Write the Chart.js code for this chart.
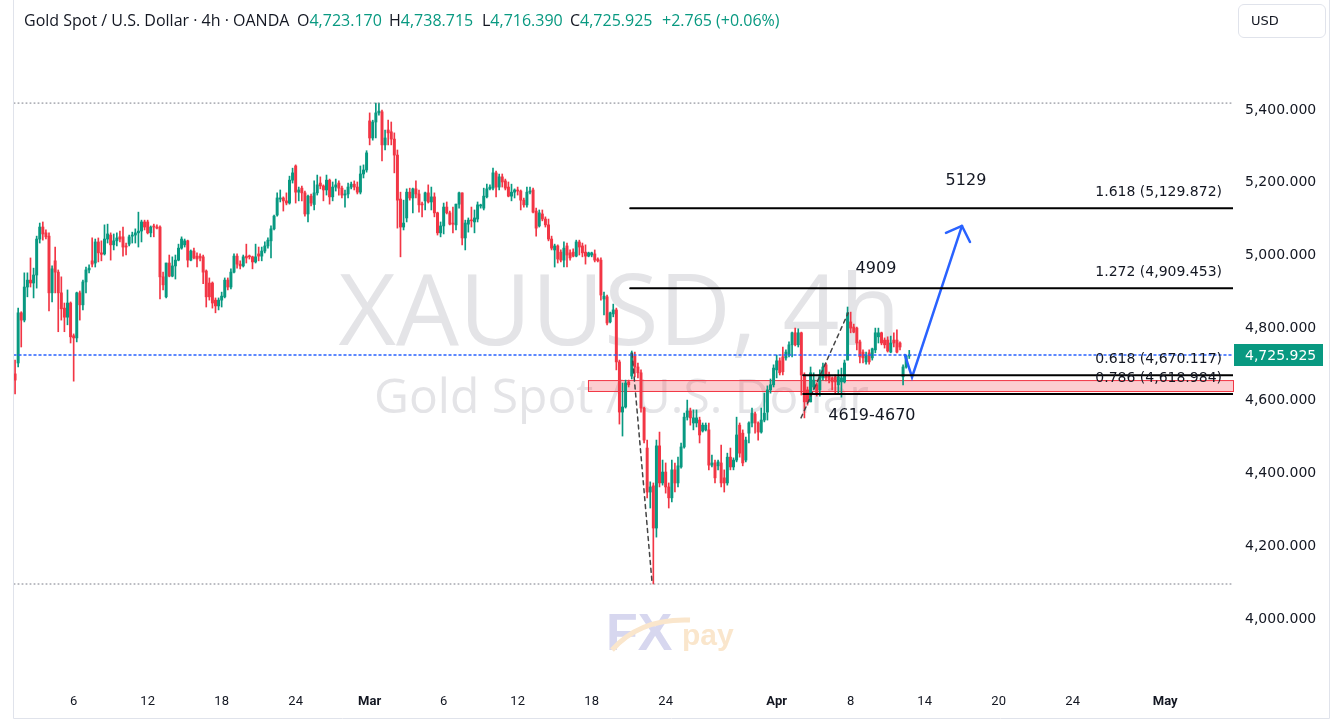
<!DOCTYPE html>
<html>
<head>
<meta charset="utf-8">
<script src="https://cdn.jsdelivr.net/npm/chart.js@4.4.1/dist/chart.umd.min.js"></script>
<style>
  html, body { margin: 0; padding: 0; background: #fff; }
  #wrap { position: relative; width: 1343px; height: 728px; overflow: hidden; }
  #chart { position: absolute; left: 0; top: 0; }
  .hdr { position: absolute; top: 9px; font: 16px 'Open Sans', Roboto, sans-serif; color: #131722; white-space: nowrap; }
  .hdr .v { color: #089981; }
  #usd { position: absolute; left: 1238px; top: 4px; width: 88px; height: 34px; border: 1px solid #e0e3eb; border-radius: 6px;
         font: 13px 'DejaVu Sans', sans-serif; color: #131722; line-height: 32px; padding-left: 12px; box-sizing: border-box; }
</style>
</head>
<body>
<div id="wrap">
  <canvas id="chart" width="1343" height="728"></canvas>
  <div class="hdr" style="left:24px">Gold Spot / U.S. Dollar · 4h · OANDA</div>
  <div class="hdr" id="hO" style="left:297px"></div>
  <div class="hdr" id="hH" style="left:389px"></div>
  <div class="hdr" id="hL" style="left:482px"></div>
  <div class="hdr" id="hC" style="left:570px"></div>
  <div class="hdr" id="hChg" style="left:662px"></div>
  <div id="usd">USD</div>
</div>
<script>
// 4h candles, first bar = last bar of Feb 2, then 6 bars per trading day
const opens = [
  4674,4704,4842,4822,4913,4932,4924,4946,5045,5078, 5062,5053,4897,4985,4954,4897,4855,4830,4869,4779,
  4773,4897,4864,4927,4960,4985,4979,5037,5007,5004, 5045,5056,5029,5040,5051,5051,5026,5031,5053,5056,
  5062,5067,5092,5092,5062,5081,5078,5078,4941,4886, 4979,4943,4971,4987,5020,5029,5040,4987,5012,4998,
  4998,4996,4957,4924,4924,4877,4861,4877,4886,4932, 4913,4954,4998,4976,4971,4998,4998,4996,4982,5004,
  4998,5012,5026,5040,5073,5111,5155,5158,5150,5144, 5207,5246,5174,5185,5172,5114,5163,5140,5172,5199,
  5191,5180,5207,5161,5188,5199,5185,5166,5169,5188, 5196,5188,5174,5224,5235,5370,5323,5367,5392,5395,
  5304,5345,5340,5320,5276,5155,5078,5103,5174,5158, 5183,5169,5141,5150,5172,5147,5161,5117,5062,5081,
  5133,5117,5089,5084,5141,5172,5048,5086,5097,5092, 5100,5136,5130,5161,5183,5185,5227,5188,5216,5205,
  5188,5163,5174,5180,5177,5152,5139,5174,5180,5122, 5081,5114,5100,5084,5045,5015,5026,5009,4987,5026,
  5007,5009,4998,5037,5026,5009,4998,5001,5004,4990, 4987,4880,4886,4817,4839,4850,4707,4569,4583,4652,
  4668,4723,4693,4677,4580,4470,4349,4366,4250,4476, 4374,4404,4363,4333,4410,4374,4418,4473,4555,4572,
  4539,4539,4547,4517,4520,4520,4423,4429,4421,4429, 4388,4374,4445,4418,4437,4533,4511,4437,4511,4539,
  4564,4539,4514,4547,4569,4630,4644,4685,4710,4721, 4718,4726,4754,4787,4754,4787,4671,4630,4597,4638,
  4644,4630,4663,4699,4671,4663,4666,4644,4652,4652, 4712,4817,4803,4800,4762,4734,4707,4732,4718,4740,
  4776,4787,4767,4767,4734,4767,4767,4759,4666,4693, 4723.17
];
const highs = [
  4712,4855,4845,4952,4952,4993,4965,5053,5089,5092, 5070,5062,4971,5023,4960,4941,4869,4905,4872,4784,
  4899,4902,4932,4968,4974,5048,5045,5048,5040,5084, 5086,5062,5059,5062,5067,5078,5034,5056,5064,5073,
  5119,5097,5097,5097,5081,5086,5084,5081,4954,4979, 5001,4996,5001,5031,5051,5045,5042,5015,5020,5007,
  5004,5001,4960,4938,4927,4883,4883,4899,4938,4938, 4963,5004,5004,4985,5001,5031,5001,4998,5031,5023,
  5023,5037,5048,5081,5111,5172,5180,5161,5172,5218, 5240,5249,5188,5191,5177,5166,5169,5205,5221,5216,
  5194,5221,5210,5202,5210,5205,5191,5180,5199,5202, 5205,5202,5246,5249,5288,5392,5372,5419,5419,5400,
  5345,5372,5367,5337,5290,5174,5152,5183,5185,5185, 5205,5180,5147,5174,5194,5188,5172,5119,5092,5144,
  5147,5122,5133,5141,5174,5172,5097,5103,5133,5125, 5147,5141,5185,5196,5194,5240,5232,5224,5224,5210,
  5202,5196,5183,5188,5180,5158,5188,5188,5185,5130, 5125,5125,5106,5100,5053,5031,5029,5015,5037,5034,
  5015,5018,5042,5042,5034,5029,5009,5009,5015,4993, 4993,4899,4891,4844,4866,4855,4712,4649,4657,4657,
  4737,4734,4704,4685,4583,4492,4377,4374,4492,4514, 4437,4429,4374,4437,4429,4445,4484,4566,4602,4580,
  4575,4575,4555,4539,4539,4539,4451,4437,4437,4478, 4410,4456,4470,4443,4555,4539,4520,4500,4542,4580,
  4569,4542,4580,4621,4641,4660,4699,4726,4718,4748, 4740,4762,4789,4800,4798,4789,4677,4638,4693,4677,
  4649,4685,4704,4704,4679,4666,4671,4685,4690,4712, 4858,4844,4811,4803,4767,4740,4734,4740,4745,4800,
  4800,4789,4773,4776,4778,4787,4795,4762,4699,4726, 4738.715
];
const lows = [
  4619,4693,4748,4817,4886,4913,4883,4910,5034,5042, 5045,4847,4872,4897,4790,4822,4790,4809,4759,4654,
  4762,4822,4850,4897,4952,4968,4968,4982,4985,5001, 5034,4987,5015,5026,5037,4998,5001,5026,5034,5034,
  5023,5037,5070,5059,5051,5051,5073,4880,4905,4883, 4941,4941,4935,4985,5017,5023,4968,4985,4990,4968,
  4985,4922,4858,4877,4855,4842,4850,4858,4883,4905, 4908,4952,4965,4963,4968,4979,4990,4963,4979,4985,
  4985,5007,5020,4993,5070,5108,5147,5122,5139,5141, 5199,5144,5150,5150,5108,5092,5136,5125,5166,5183,
  5150,5166,5141,5150,5177,5166,5158,5133,5158,5183, 5180,5169,5169,5213,5229,5304,5317,5323,5386,5260,
  5290,5304,5304,5227,5075,4996,5070,5092,5152,5117, 5158,5119,5106,5125,5144,5125,5106,5056,5051,5059,
  5114,5084,5062,5070,5130,5029,5015,5064,5078,5062, 5092,5130,5125,5158,5180,5180,5161,5180,5188,5180,
  5161,5150,5158,5166,5125,5133,5133,5169,5117,5053, 5078,5095,5078,5040,5015,4968,4979,4982,4968,4968,
  4987,4996,4996,5001,4996,4976,4996,4996,4982,4982, 4877,4836,4809,4814,4831,4685,4536,4503,4580,4638,
  4660,4666,4663,4569,4484,4333,4305,4096,4225,4363, 4368,4346,4305,4322,4349,4363,4415,4470,4547,4533,
  4520,4528,4484,4514,4517,4410,4418,4374,4410,4363, 4349,4368,4410,4410,4432,4445,4421,4432,4484,4528,
  4511,4492,4511,4542,4547,4621,4638,4663,4671,4671, 4712,4721,4721,4751,4748,4616,4553,4588,4597,4630,
  4613,4613,4657,4655,4649,4630,4621,4621,4610,4649, 4712,4787,4787,4740,4704,4704,4701,4701,4712,4732,
  4759,4754,4745,4734,4732,4748,4732,4740,4644,4690, 4716.39
];
const closes = [
  4657,4842,4822,4913,4932,4924,4946,5045,5078,5059, 5051,4897,4963,4954,4897,4853,4830,4869,4776,4773,
  4897,4864,4927,4960,4965,4976,5037,5007,5003,5045, 5059,5029,5040,5048,5045,5023,5023,5051,5056,5062,
  5067,5092,5078,5062,5078,5078,5075,4941,4919,4979, 4943,4971,4987,5020,5045,5040,4987,5012,4993,4990,
  4993,4954,4886,4886,4869,4861,4877,4888,4932,4913, 4954,4998,4976,4971,4996,4993,4996,4982,4996,4998,
  5012,5026,5042,5073,5108,5158,5158,5150,5144,5207, 5227,5174,5180,5172,5114,5163,5144,5172,5194,5191,
  5180,5207,5161,5188,5194,5185,5166,5169,5188,5196, 5188,5174,5224,5235,5282,5323,5367,5392,5397,5304,
  5323,5337,5320,5276,5152,5078,5089,5174,5158,5183, 5169,5139,5139,5172,5147,5161,5117,5062,5081,5133,
  5117,5086,5086,5141,5172,5048,5089,5097,5095,5103, 5139,5139,5163,5183,5188,5227,5188,5216,5202,5185,
  5163,5174,5180,5177,5152,5139,5174,5177,5119,5075, 5117,5100,5084,5045,5020,5026,4990,4987,5020,5001,
  4993,4998,5037,5023,5007,4998,5007,5007,4987,4985, 4891,4888,4814,4842,4850,4707,4569,4583,4649,4644,
  4732,4693,4677,4580,4492,4349,4363,4250,4476,4374, 4404,4363,4333,4410,4374,4421,4473,4555,4572,4553,
  4553,4553,4506,4533,4533,4423,4429,4388,4432,4374, 4374,4445,4418,4437,4506,4456,4429,4492,4539,4566,
  4539,4514,4547,4566,4630,4644,4690,4710,4677,4680, 4734,4754,4787,4754,4787,4671,4597,4597,4677,4657,
  4621,4671,4693,4663,4657,4652,4652,4666,4663,4704, 4842,4800,4789,4759,4721,4718,4726,4707,4743,4787,
  4787,4759,4754,4737,4759,4759,4734,4748,4693,4723.16, 4725.925
];

// time axis: trading-day number (from Feb 3) and its label
const tickDays = [3, 7, 11, 15, 19, 23, 27, 31, 35, 41, 45, 49, 53, 57, 62];
const tickLabels = ['6', '12', '18', '24', 'Mar', '6', '12', '18', '24', 'Apr', '8', '14', '20', '24', 'May'];
const monthLabels = ['Mar', 'Apr', 'May'];
const priceTicks = [4000, 4200, 4400, 4600, 4800, 5000, 5200, 5400];

// drawings (x in bar index, y in price)
const fibRatios = ['1.618', '1.272', '0.618', '0.786'];
const fibPrices = [5129.872, 4909.453, 4670.117, 4618.984];
const fibFrom = [199.5, 199.5, 255.6, 255.6];
const zoneLow = 4627, zoneHigh = 4657, zoneFrom = 185.8;
const swingHigh = 5419, swingLow = 4096;
const legA = [[200.1, 4731], [206.6, 4099]];
const legB = [[254.9, 4553], [270.2, 4842]];
const arrowPath = [[288.6, 4726], [290.9, 4665], [307.1, 5081]];
const arrowBarbs = [[[301.9, 5062], [307.1, 5081]], [[309.7, 5037], [307.1, 5081]]];
const noteTexts = ['5129', '4909', '4619-4670'];
const notePos = [[308.4, 5205], [279.2, 4963], [277.9, 4558]];

const UP = '#089981', DOWN = '#f23645';
const X_MIN = -0.35, X_MAX = 395;
const n = closes.length;
const last = closes[n - 1];

const fmt = (v) => v.toLocaleString('en-US', { minimumFractionDigits: 3, maximumFractionDigits: 3 });
const colors = closes.map((c, i) => (c >= opens[i] ? UP : DOWN));
const dayOf = (v) => tickDays.indexOf(Math.round((v - 1) / 6));

// header built from the last candle
document.getElementById('hO').innerHTML = 'O<span class="v">' + fmt(opens[n - 1]) + '</span>';
document.getElementById('hH').innerHTML = 'H<span class="v">' + fmt(highs[n - 1]) + '</span>';
document.getElementById('hL').innerHTML = 'L<span class="v">' + fmt(lows[n - 1]) + '</span>';
document.getElementById('hC').innerHTML = 'C<span class="v">' + fmt(last) + '</span>';
const chg = last - closes[n - 2];
document.getElementById('hChg').innerHTML = '<span class="v">+' + chg.toFixed(3) + ' (+' + (chg / closes[n - 2] * 100).toFixed(2) + '%)</span>';

const pts = (arr) => arr.map(([x, y]) => ({ x, y }));
const line = (data, color, width, dash) => ({
  type: 'line', data, borderColor: color, borderWidth: width, borderDash: dash || [],
  pointRadius: 0, fill: false, order: 0, borderCapStyle: 'round',
});

const datasets = [
  { type: 'bar', data: closes.map((c, i) => ({ x: i, y: [lows[i], highs[i]] })), backgroundColor: colors,
    barThickness: 1, grouped: false, order: 2 },
  { type: 'bar', data: closes.map((c, i) => ({ x: i, y: [opens[i], c] })), backgroundColor: colors,
    barThickness: 2.3, minBarLength: 1, grouped: false, order: 1 },
  line([{ x: X_MIN, y: swingHigh }, { x: X_MAX, y: swingHigh }], '#787b86', 1, [1, 3]),
  line([{ x: X_MIN, y: swingLow }, { x: X_MAX, y: swingLow }], '#787b86', 1, [1, 3]),
  line([{ x: X_MIN, y: last }, { x: X_MAX, y: last }], '#2962ff', 1.5, [2, 3]),
  ...fibPrices.map((p, i) => line([{ x: fibFrom[i], y: p }, { x: X_MAX, y: p }], '#000000', 2)),
  line(pts(legA), '#444', 1.5, [4, 4]),
  line(pts(legB), '#444', 1.5, [4, 4]),
  line(pts(arrowPath), '#2962ff', 2.5),
  ...arrowBarbs.map((b) => line(pts(b), '#2962ff', 2.5)),
];

function fitFont(ctx, text, width, family, weight) {
  ctx.font = (weight || '') + ' 100px ' + family;
  const size = 100 * width / ctx.measureText(text).width;
  ctx.font = (weight || '') + ' ' + size + 'px ' + family;
}

const overlay = {
  id: 'overlay',
  beforeDatasetsDraw(chart) {
    const { ctx, chartArea: a, scales: { x, y } } = chart;
    const cx = (a.left + a.right) / 2;
    ctx.save();
    ctx.fillStyle = '#e4e4e7';
    ctx.textAlign = 'center';
    ctx.textBaseline = 'alphabetic';
    fitFont(ctx, 'XAUUSD, 4h', 562, '"Open Sans", Roboto, sans-serif');
    ctx.fillText('XAUUSD, 4h', cx - 4, 345);
    fitFont(ctx, 'Gold Spot / U.S. Dollar', 495, '"Open Sans", Roboto, sans-serif');
    ctx.fillText('Gold Spot / U.S. Dollar', cx - 2, 413);

    // FXpay mark
    ctx.textAlign = 'left';
    ctx.fillStyle = '#d7d7ef';
    ctx.font = 'bold 52px "Liberation Sans", sans-serif';
    ctx.fillText('FX', 606, 650);
    ctx.fillStyle = '#fae6cc';
    ctx.font = 'bold 30px "Liberation Sans", sans-serif';
    ctx.fillText('pay', 682, 645);
    ctx.strokeStyle = '#fae6cc';
    ctx.lineWidth = 5;
    ctx.beginPath();
    ctx.moveTo(612, 650);
    ctx.quadraticCurveTo(640, 618, 690, 620);
    ctx.stroke();

    // demand zone
    const zl = x.getPixelForValue(zoneFrom);
    const zt = y.getPixelForValue(zoneHigh);
    const zb = y.getPixelForValue(zoneLow);
    ctx.fillStyle = 'rgba(242, 54, 69, 0.25)';
    ctx.fillRect(zl, zt, a.right - zl, zb - zt);
    ctx.strokeStyle = DOWN;
    ctx.lineWidth = 1;
    ctx.strokeRect(zl + 0.5, zt + 0.5, a.right - zl, zb - zt);
    ctx.restore();
  },
  afterDatasetsDraw(chart) {
    const { ctx, chartArea: a, scales: { x, y } } = chart;
    ctx.save();
    ctx.fillStyle = '#131722';
    ctx.font = '14px "DejaVu Sans", sans-serif';
    ctx.textAlign = 'right';
    ctx.textBaseline = 'middle';
    fibPrices.forEach((p, i) => {
      ctx.fillText(fibRatios[i] + ' (' + fmt(p) + ')', a.right - 11, y.getPixelForValue(p) - 16);
    });
    ctx.font = '16px "DejaVu Sans", sans-serif';
    ctx.textAlign = 'center';
    noteTexts.forEach((t, i) => {
      ctx.fillText(t, x.getPixelForValue(notePos[i][0]), y.getPixelForValue(notePos[i][1]));
    });
    ctx.restore();
  },
  afterDraw(chart) {
    const { ctx, chartArea: a, scales: { y } } = chart;
    ctx.save();
    const py = Math.round(y.getPixelForValue(last));
    ctx.fillStyle = UP;
    ctx.fillRect(a.right + 1, py - 11, 89, 22);
    ctx.fillStyle = '#ffffff';
    ctx.font = '14px "DejaVu Sans", sans-serif';
    ctx.textBaseline = 'middle';
    ctx.fillText(fmt(last), a.right + 12, py + 1);
    ctx.strokeStyle = '#e0e3eb';
    ctx.lineWidth = 1;
    ctx.beginPath();
    ctx.moveTo(13.5, 0); ctx.lineTo(13.5, 718.5); ctx.lineTo(1329.5, 718.5); ctx.lineTo(1329.5, 0);
    ctx.stroke();
    ctx.restore();
  },
};

new Chart(document.getElementById('chart'), {
  type: 'bar',
  data: { datasets },
  plugins: [overlay],
  options: {
    responsive: false,
    animation: false,
    layout: { padding: { left: 14, right: 13, top: 0, bottom: 10 } },
    plugins: { legend: { display: false }, tooltip: { enabled: false } },
    scales: {
      x: {
        type: 'linear', min: X_MIN, max: X_MAX, offset: false,
        grid: { display: false, drawTicks: false }, border: { display: false },
        afterBuildTicks: (s) => { s.ticks = tickDays.map((d) => ({ value: 1 + 6 * d })); },
        afterFit: (s) => { s.height = 28; s.paddingLeft = 0; s.paddingRight = 0; },
        ticks: {
          autoSkip: false, maxRotation: 0, padding: 4, color: '#131722',
          font: (c) => ({
            family: 'Roboto, "Liberation Sans", sans-serif', size: 13,
            weight: c.tick && monthLabels.includes(tickLabels[dayOf(c.tick.value)]) ? 'bold' : 'normal',
          }),
          callback: (v) => tickLabels[dayOf(v)],
        },
      },
      y: {
        position: 'right', min: 3804.4, max: 5702.6,
        grid: { display: false, drawTicks: false }, border: { display: false },
        afterBuildTicks: (s) => { s.ticks = priceTicks.map((v) => ({ value: v })); },
        afterFit: (s) => { s.width = 97; s.paddingTop = 0; s.paddingBottom = 0; },
        ticks: {
          padding: 12, color: '#131722',
          font: { family: '"DejaVu Sans", sans-serif', size: 14 },
          callback: (v) => fmt(v),
        },
      },
    },
  },
});
</script>
</body>
</html>
